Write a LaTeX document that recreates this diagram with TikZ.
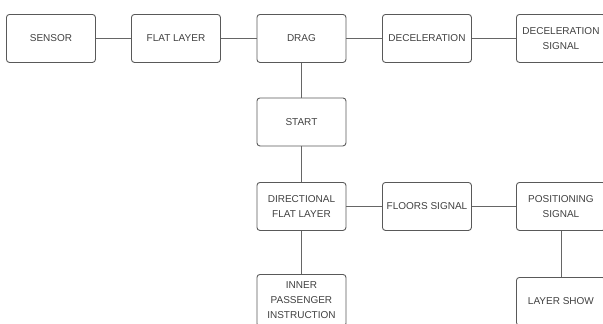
\documentclass[tikz,border=0pt]{standalone}
\usepackage{fontspec}
\setmainfont{Liberation Sans}
\begin{document}
\begin{tikzpicture}[x=1pt,y=-1pt,
  box/.style={draw=black!65, line width=0.9pt, rounded corners=3pt, minimum width=89pt, minimum height=48pt, align=center, inner sep=1pt, text=black!75, font=\fontsize{10}{15}\selectfont, anchor=north west},
  link/.style={draw=black!60, line width=0.9pt}]
\useasboundingbox (0,0) rectangle (603,324);
\node[box] (sensor) at (6,14) {SENSOR};
\node[box] (flat) at (131,14) {FLAT LAYER};
\node[box] (drag) at (256.5,14) {DRAG};
\node[box] (decel) at (382,14) {DECELERATION};
\node[box] (decsig) at (516,14) {DECELERATION\\SIGNAL};
\node[box] (start) at (256.5,97.5) {START};
\node[box] (dir) at (256.5,182) {DIRECTIONAL\\FLAT LAYER};
\node[box] (floors) at (382,182) {FLOORS SIGNAL};
\node[box] (pos) at (516,182) {POSITIONING\\SIGNAL};
\node[box, minimum height=52pt] (inner) at (256.5,274) {INNER\\PASSENGER\\INSTRUCTION};
\node[box] (show) at (516,277) {LAYER SHOW};
\draw[link] (sensor) -- (flat);
\draw[link] (flat) -- (drag);
\draw[link] (drag) -- (decel);
\draw[link] (decel) -- (decsig);
\draw[link] (drag) -- (start);
\draw[link] (start) -- (dir);
\draw[link] (dir) -- (floors);
\draw[link] (floors) -- (pos);
\draw[link] (dir) -- (inner);
\draw[link] (pos.south -| 561,0) -- (show.north -| 561,0);
\end{tikzpicture}
\end{document}
